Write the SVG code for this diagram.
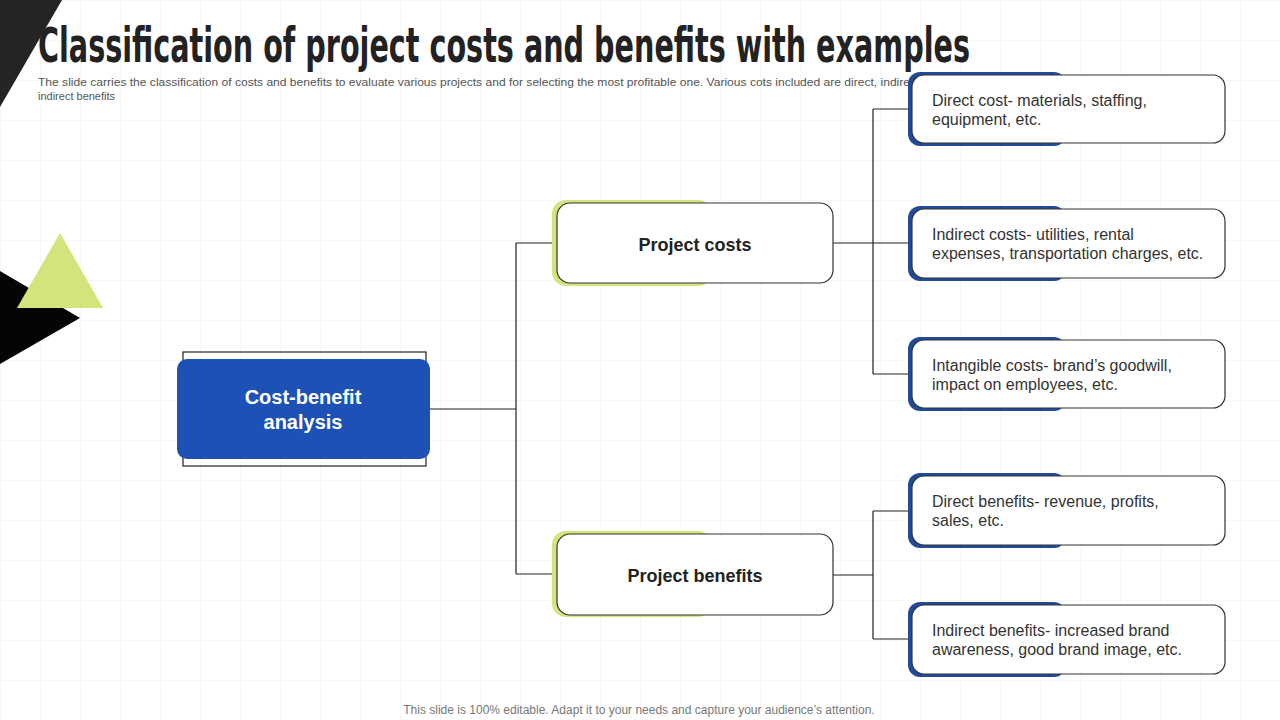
<svg xmlns="http://www.w3.org/2000/svg" width="1280" height="720" viewBox="0 0 1280 720">
<defs>
<pattern id="grid" width="40" height="40" patternUnits="userSpaceOnUse">
<path d="M40 0 L0 0 L0 40" fill="none" stroke="#efefef" stroke-width="1"/>
</pattern>
<style>
.conn{fill:none;stroke:#222;stroke-width:1.2}
.wbox{fill:#fff;stroke:#333;stroke-width:1.2}
.green{fill:#d2e57c}
.blue{fill:#1f4b98}
.lbl{font-family:"Liberation Sans",Arial,sans-serif;font-size:18px;font-weight:bold;fill:#222;text-anchor:middle}
.desc{font-family:"Liberation Sans",Arial,sans-serif;font-size:16px;fill:#333}
</style>
</defs>
<rect width="1280" height="720" fill="#fff"/>
<rect width="1280" height="720" fill="url(#grid)"/>

<g id="decor">
<polygon points="0,0 62,0 0,107" fill="#242424"/>
<polygon points="0,271 80,318 0,364" fill="#050505"/>
<polygon points="60,233 103,308 17,308" fill="#d2e57c"/>
</g>

<g id="title">
<text x="38" y="62" font-family="'Liberation Sans Narrow','DejaVu Sans Condensed',sans-serif" font-weight="bold" font-size="48" fill="#222" textLength="932" lengthAdjust="spacingAndGlyphs">Classification of project costs and benefits with examples</text>
<text x="38" y="86" font-family="'Liberation Sans',Arial,sans-serif" font-size="11" fill="#555" textLength="872" lengthAdjust="spacingAndGlyphs">The slide carries the classification of costs and benefits to evaluate various projects and for selecting the most profitable one. Various cots included are direct, indire</text>
<text x="38" y="100" font-family="'Liberation Sans',Arial,sans-serif" font-size="11" fill="#555">indirect benefits</text>
</g>

<g id="connectors">
<path class="conn" d="M430 409 H516 M516 243 V574 M516 243 H557 M516 574 H557"/>
<path class="conn" d="M833 243 H873 M873 109 V374 M873 109 H912 M873 243 H912 M873 374 H912"/>
<path class="conn" d="M833 575 H873 M873 511 V639 M873 511 H912 M873 639 H912"/>
</g>

<g id="node-cba">
<rect x="183" y="352" width="243" height="114" fill="none" stroke="#222" stroke-width="1.2"/>
<rect x="177" y="359" width="253" height="100" rx="10" fill="#1e51b5"/>
<text x="303" y="404" font-family="'Liberation Sans',Arial,sans-serif" font-size="20" font-weight="bold" fill="#fff" text-anchor="middle">Cost-benefit</text>
<text x="303" y="429" font-family="'Liberation Sans',Arial,sans-serif" font-size="20" font-weight="bold" fill="#fff" text-anchor="middle">analysis</text>
</g>

<g id="node-costs">
<rect class="green" x="552" y="200" width="160" height="86" rx="14"/>
<rect class="wbox" x="557" y="203" width="276" height="80" rx="13"/>
<text class="lbl" x="695" y="251">Project costs</text>
</g>

<g id="node-benefits">
<rect class="green" x="552" y="531" width="160" height="86" rx="14"/>
<rect class="wbox" x="557" y="534" width="276" height="81" rx="13"/>
<text class="lbl" x="695" y="582">Project benefits</text>
</g>

<g id="node-direct-cost">
<rect class="blue" x="908" y="72" width="158" height="74" rx="12"/>
<rect class="wbox" x="912" y="75" width="313" height="68" rx="12"/>
<text class="desc" x="932" y="106">Direct cost- materials, staffing,</text>
<text class="desc" x="932" y="125">equipment, etc.</text>
</g>

<g id="node-indirect-cost">
<rect class="blue" x="908" y="206" width="158" height="75" rx="12"/>
<rect class="wbox" x="912" y="209" width="313" height="69" rx="12"/>
<text class="desc" x="932" y="240">Indirect costs- utilities, rental</text>
<text class="desc" x="932" y="259">expenses, transportation charges, etc.</text>
</g>

<g id="node-intangible-cost">
<rect class="blue" x="908" y="337" width="158" height="74" rx="12"/>
<rect class="wbox" x="912" y="340" width="313" height="68" rx="12"/>
<text class="desc" x="932" y="371">Intangible costs- brand’s goodwill,</text>
<text class="desc" x="932" y="390">impact on employees, etc.</text>
</g>

<g id="node-direct-benefits">
<rect class="blue" x="908" y="473" width="158" height="75" rx="12"/>
<rect class="wbox" x="912" y="476" width="313" height="69" rx="12"/>
<text class="desc" x="932" y="507">Direct benefits- revenue, profits,</text>
<text class="desc" x="932" y="526">sales, etc.</text>
</g>

<g id="node-indirect-benefits">
<rect class="blue" x="908" y="602" width="158" height="75" rx="12"/>
<rect class="wbox" x="912" y="605" width="313" height="69" rx="12"/>
<text class="desc" x="932" y="636">Indirect benefits- increased brand</text>
<text class="desc" x="932" y="655">awareness, good brand image, etc.</text>
</g>

<g id="footer">
<text x="639" y="714" font-family="'Liberation Sans',Arial,sans-serif" font-size="12" fill="#777" text-anchor="middle">This slide is 100% editable. Adapt it to your needs and capture your audience’s attention.</text>
</g>
</svg>
